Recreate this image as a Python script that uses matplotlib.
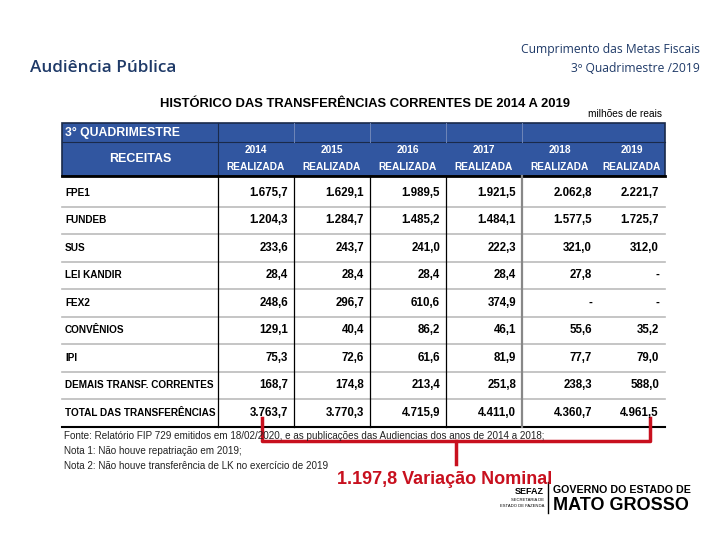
import matplotlib
matplotlib.use("Agg")
import matplotlib.pyplot as plt
from matplotlib.patches import Rectangle

# ---------------- data ----------------
years = ["2014", "2015", "2016", "2017", "2018", "2019"]
categories = ["FPE1", "FUNDEB", "SUS", "LEI KANDIR", "FEX2", "CONVÊNIOS", "IPI",
              "DEMAIS TRANSF. CORRENTES"]
fpe1 = [1675.7, 1629.1, 1989.5, 1921.5, 2062.8, 2221.7]
fundeb = [1204.3, 1284.7, 1485.2, 1484.1, 1577.5, 1725.7]
sus = [233.6, 243.7, 241.0, 222.3, 321.0, 312.0]
lei_kandir = [28.4, 28.4, 28.4, 28.4, 27.8, None]
fex2 = [248.6, 296.7, 610.6, 374.9, None, None]
convenios = [129.1, 40.4, 86.2, 46.1, 55.6, 35.2]
ipi = [75.3, 72.6, 61.6, 81.9, 77.7, 79.0]
demais = [168.7, 174.8, 213.4, 251.8, 238.3, 588.0]
total_label = "TOTAL DAS TRANSFERÊNCIAS"
totals = [3763.7, 3770.3, 4715.9, 4411.0, 4360.7, 4961.5]
rows = [fpe1, fundeb, sus, lei_kandir, fex2, convenios, ipi, demais]
notes = ["Fonte: Relatório FIP 729 emitidos em 18/02/2020, e as publicações das Audiencias dos anos de 2014 a 2018;",
         "Nota 1: Não houve repatriação em 2019;",
         "Nota 2: Não houve transferência de LK no exercício de 2019"]

def fmt(v):
    if v is None:
        return "-"
    s = f"{v:,.1f}"
    return s.replace(",", "X").replace(".", ",").replace("X", ".")

body = ["Liberation Sans", "DejaVu Sans"]
calib = ["Open Sans", "DejaVu Sans"]

fig = plt.figure(figsize=(7.2, 5.4), dpi=100)
ax = fig.add_axes([0, 0, 1, 1])
ax.set_xlim(0, 720)
ax.set_ylim(540, 0)
ax.axis("off")

navy = "#1F3A68"
blue = "#3156A0"
red = "#C8101E"

# page header
ax.text(30, 68, "Audiência Pública", fontsize=12.3, color=navy, family=calib,
        va="center", ha="left", fontweight="semibold")
ax.text(700, 50, "Cumprimento das Metas Fiscais", fontsize=8.7, color=navy,
        family=calib, va="center", ha="right")
ax.text(700, 69, "3º Quadrimestre /2019", fontsize=8.7, color=navy,
        family=calib, va="center", ha="right")

ax.text(365, 104, "HISTÓRICO DAS TRANSFERÊNCIAS CORRENTES DE 2014 A 2019", fontsize=9.4,
        fontweight="bold", family=body, ha="center", va="center", color="black")
ax.text(625, 114, "milhões de reais", fontsize=7.3, family=body, ha="center", va="center")

# table geometry
x_left, x_lab, x_right = 62, 218, 665
col_edges = [218, 294, 370, 446, 522, 598, 665]
y_top, y_mid, y_head = 123, 142, 176
row_h = 27.5

# header
ax.add_patch(Rectangle((x_left, y_top), x_right - x_left, y_head - y_top, facecolor=blue,
                       edgecolor="#1a2a4a", lw=1.2))
ax.plot([x_left, x_right], [y_mid, y_mid], color="#1a2a4a", lw=0.8)
ax.plot([x_lab, x_lab], [y_top, y_head], color="#1a2a4a", lw=0.8)
for xe in col_edges[1:5]:
    ax.plot([xe, xe], [y_top, y_mid], color="#6f86b8", lw=0.7)
ax.text(65, 133, "3° QUADRIMESTRE", color="white", fontsize=8.8, fontweight="bold",
        family=body, va="center", ha="left")
ax.text((x_left + x_lab) / 2, 159, "RECEITAS", color="white", fontsize=9, fontweight="bold",
        family=body, va="center", ha="center")
for i, yr in enumerate(years):
    cx = (col_edges[i] + col_edges[i + 1]) / 2
    ax.text(cx, 150, yr, color="white", fontsize=7.3, fontweight="bold", family=body,
            ha="center", va="center")
    ax.text(cx, 167, "REALIZADA", color="white", fontsize=7.3, fontweight="bold", family=body,
            ha="center", va="center")
ax.plot([x_left, x_right], [y_head, y_head], color="black", lw=2)

# body
all_labels = categories + [total_label]
all_rows = rows + [totals]
y0 = y_head + 3
for r, (lab, vals) in enumerate(zip(all_labels, all_rows)):
    yc = y0 + row_h * (r + 0.5)
    ax.text(65, yc, lab, fontsize=7.2, fontweight="bold", family=body, ha="left", va="center")
    for i, v in enumerate(vals):
        ax.text(col_edges[i + 1] - 6, yc, fmt(v), fontsize=8.3, fontweight="bold", family=body,
                ha="right", va="center")
    if r < len(all_rows) - 1:
        ax.plot([x_left, x_right], [y0 + row_h * (r + 1)] * 2, color="#bbbbbb", lw=1.2)
y_bot = y0 + row_h * len(all_rows)
ax.plot([x_left, x_right], [y_bot, y_bot], color="black", lw=1.5)
for xe in col_edges[:4]:
    ax.plot([xe, xe], [y_head, y_bot], color="black", lw=0.9)
ax.plot([col_edges[4], col_edges[4]], [y_head, y_bot], color="#888888", lw=1.6)

# notes
for k, n in enumerate(notes):
    ax.text(64, 436 + 15 * k, n, fontsize=7.1, family=body, ha="left", va="center", color="#222222")

# red bracket
xa = col_edges[0] + 44
xb = col_edges[6] - 15
yb = 441
ax.plot([xa, xa, xb, xb], [418, yb, yb, 418], color=red, lw=2.5, solid_joinstyle="round")
xm = (xa + xb) / 2
ax.plot([xm, xm], [yb, 464], color=red, lw=2.5)
variation = totals[-1] - totals[0]
ax.text(445, 480, f"{fmt(variation)} Variação Nominal", color=red, fontsize=13,
        fontweight="bold", family=body, ha="center", va="center")

# logo
ax.plot([548, 548], [482, 513], color="black", lw=1)
ax.text(544, 492, "SEFAZ", fontsize=6.5, fontweight="bold", family=body,
        ha="right", va="center")
ax.text(544, 500, "SECRETARIA DE", fontsize=3, family=body, ha="right", va="center")
ax.text(544, 506, "ESTADO DE FAZENDA", fontsize=3, family=body, ha="right", va="center")
ax.text(553, 490, "GOVERNO DO ESTADO DE", fontsize=7.7, fontweight="bold",
        family=body, ha="left", va="center")
ax.text(553, 505, "MATO GROSSO", fontsize=13, fontweight="bold",
        family=body, ha="left", va="center")

fig.savefig("out.png", dpi=100)
